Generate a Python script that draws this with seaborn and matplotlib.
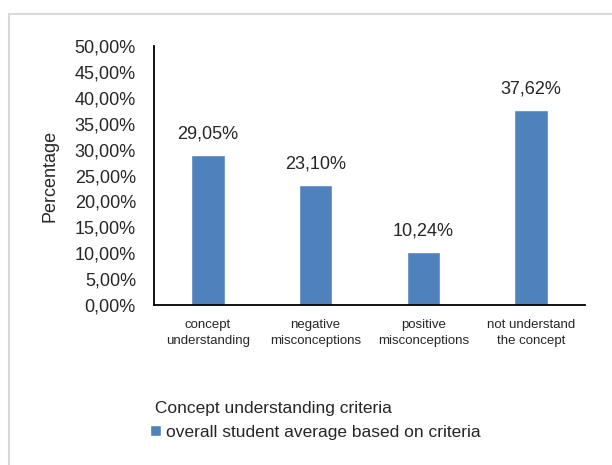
import matplotlib
matplotlib.use("Agg")
import matplotlib.pyplot as plt
from matplotlib.patches import Rectangle
from matplotlib.ticker import FuncFormatter, MultipleLocator
import seaborn as sns
import pandas as pd

# data
kategori = ["concept\nunderstanding", "negative\nmisconceptions",
            "positive\nmisconceptions", "not understand\nthe concept"]
persen = [29.05, 23.10, 10.24, 37.62]
nama_seri = "overall student average based on criteria"
judul_legenda = "Concept understanding criteria"

sns.set_style("white")
plt.rcParams['font.family'] = ['Liberation Sans', 'DejaVu Sans']

df = pd.DataFrame({"kriteria": kategori, "persen": persen})

fig = plt.figure(figsize=(6.12, 4.65), dpi=100)
ax = fig.add_axes([154 / 612, 1 - 305 / 465, 431 / 612, 259 / 465])

sns.barplot(data=df, x="kriteria", y="persen", color="#4F81BD",
            width=0.31, saturation=1, label=nama_seri, ax=ax)

ax.set_ylim(0, 50)
ax.yaxis.set_major_locator(MultipleLocator(5))
ax.yaxis.set_major_formatter(FuncFormatter(lambda v, p: f"{v:.2f}%".replace(".", ",")))
ax.tick_params(axis="y", labelsize=13, length=0, pad=13)
ax.tick_params(axis="x", labelsize=9.5, length=0, pad=10)
for t in ax.get_xticklabels():
    t.set_linespacing(1.45)

for s in ["top", "right"]:
    ax.spines[s].set_visible(False)
for s in ["left", "bottom"]:
    ax.spines[s].set_color("black")
    ax.spines[s].set_linewidth(1.3)

ax.set_xlabel("")
ax.set_ylabel("Percentage", fontsize=13, labelpad=12)

# label nilai di atas batang
for i, v in enumerate(persen):
    ax.annotate(f"{v:.2f}%".replace(".", ","), (i, v), xytext=(0, 9),
                textcoords="offset points", ha="center", va="bottom", fontsize=13)

# legenda di bawah
handles, labels = ax.get_legend_handles_labels()
if ax.get_legend() is not None:
    ax.get_legend().remove()
leg = fig.legend(handles, labels, title=" " + judul_legenda,
                 loc="upper left", bbox_to_anchor=(150 / 612, 1 - 401 / 465),
                 frameon=False, fontsize=12.5, title_fontsize=12.5,
                 handlelength=0.65, handleheight=0.65, handletextpad=0.3,
                 alignment="left", borderaxespad=0, borderpad=0)

# bingkai abu-abu
fig.patches.append(Rectangle((9 / 612, -0.1), 1.2, 1 - 14 / 465 + 0.1,
                             transform=fig.transFigure, fill=False,
                             edgecolor="#d9d9d9", linewidth=1.5))

fig.savefig("out.png", dpi=100)
